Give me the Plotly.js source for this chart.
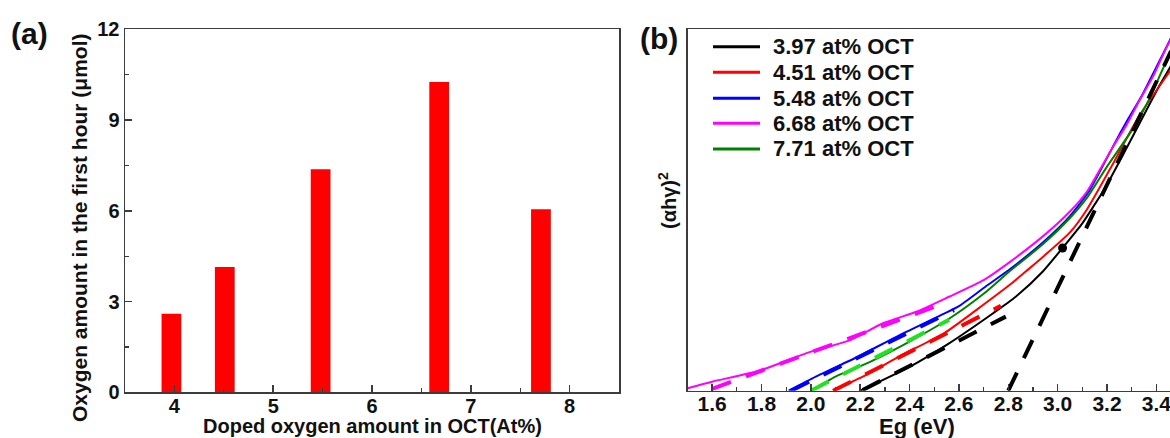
<!DOCTYPE html>
<html>
<head>
<meta charset="utf-8">
<script src="https://cdn.plot.ly/plotly-3.0.1.min.js"></script>
<style>
  html, body { margin: 0; padding: 0; overflow: hidden; background: #fff; }
  #chart { width: 1200px; height: 438px; }
</style>
</head>
<body>
<div id="chart"></div>
<script>
// ---------- Panel (a): photocatalytic O2 evolution ----------
const dopedOxygen = [3.97, 4.51, 5.48, 6.68, 7.71];          // at% OCT
const oxygenFirstHour = [2.60, 4.14, 7.37, 10.26, 6.05];     // µmol
const aTicks = [4, 5, 6, 7, 8];

// ---------- Panel (b): Tauc plots (αhν)^2 vs Eg ----------
const seriesNames = ["3.97 at% OCT", "4.51 at% OCT", "5.48 at% OCT", "6.68 at% OCT", "7.71 at% OCT"];
const seriesColors = ["#000000", "#ff0000", "#0000ff", "#ff00ff", "#008000"];

const eg397 = [2.20, 2.40, 2.56, 2.74, 2.83, 2.94, 3.02, 3.10, 3.15, 3.19, 3.28, 3.415, 3.46, 3.49];
const ab397 = [0, 6.6, 13.1, 21.5, 26.0, 33.0, 39.5, 46.3, 51.5, 55.8, 67.2, 84.7, 90, 94];

const eg451 = [2.09, 2.21, 2.37, 2.54, 2.67, 2.81, 2.88, 2.94, 3.05, 3.12, 3.23, 3.33, 3.455, 3.49];
const ab451 = [0, 3.9, 9.9, 15.9, 22.3, 29.5, 33.5, 37.0, 43.8, 50.3, 63.5, 76.0, 88.4, 92];

const eg548 = [1.91, 2.02, 2.19, 2.36, 2.54, 2.60, 2.70, 2.81, 2.94, 3.05, 3.13, 3.18, 3.23, 3.28, 3.34, 3.40, 3.455, 3.49];
const ab548 = [0, 3.9, 9.4, 15.4, 21.3, 23.4, 28.4, 33.8, 41.0, 48.3, 55.5, 61.8, 68.3, 74.5, 81.5, 89.5, 97, 102];

const eg668 = [1.50, 1.60, 1.79, 2.00, 2.16, 2.29, 2.43, 2.56, 2.70, 2.81, 2.94, 3.05, 3.12, 3.17, 3.23, 3.28, 3.33, 3.39, 3.44, 3.49];
const ab668 = [0.7, 2.5, 5.5, 10.8, 14.0, 18.6, 21.9, 26.0, 30.6, 35.8, 42.7, 49.6, 55.2, 61.0, 68.1, 73.6, 80.1, 87.4, 94.8, 101];

const eg771 = [2.00, 2.10, 2.24, 2.40, 2.56, 2.70, 2.81, 2.94, 3.05, 3.12, 3.20, 3.31, 3.37, 3.44, 3.49];
const ab771 = [0, 3.9, 8.0, 13.6, 19.9, 26.8, 33.3, 40.5, 47.8, 53.5, 62.0, 73.0, 80.5, 91.0, 97];

// tangent (fit) lines: [x0, x1], [y0, y1]
const fitBlackSteepX = [2.80, 3.46], fitBlackSteepY = [0, 94];
const fitBlackLowX = [2.21, 2.79],  fitBlackLowY = [0.2, 20.5];
const fitRedX = [2.09, 2.77],       fitRedY = [0, 23.5];
const fitBlueX = [1.92, 2.58],      fitBlueY = [0, 22.3];
const fitMagentaX = [1.60, 2.54],   fitMagentaY = [0.5, 24.2];
const fitGreenX = [2.00, 2.56],     fitGreenY = [0, 19.6];
// marked point on the 3.97 at% curve
const markX = [3.02], markY = [39.5];

const W = 1200, H = 438;
const px = v => v / W;
const py = v => 1 - v / H;
const FONT = "Arial, 'Liberation Sans', sans-serif";
const AXC = "#3c3c3c";

const curves = [
  [eg397, ab397], [eg451, ab451], [eg548, ab548], [eg668, ab668], [eg771, ab771]
];

const traces = [];
traces.push({
  type: "bar", x: dopedOxygen, y: oxygenFirstHour, width: 0.2,
  marker: { color: "#ff0000", line: { width: 0 } },
  xaxis: "x", yaxis: "y", showlegend: false, hoverinfo: "x+y"
});
curves.forEach((c, i) => {
  traces.push({
    type: "scatter", mode: "lines", x: c[0], y: c[1], name: seriesNames[i],
    line: { color: seriesColors[i], width: 2, shape: "spline", smoothing: 0.6 },
    xaxis: "x2", yaxis: "y2", showlegend: false
  });
});
const fits = [
  [fitMagentaX, fitMagentaY, "#ff00ff"],
  [fitBlueX, fitBlueY, "#0000ff"],
  [fitGreenX, fitGreenY, "#22e022"],
  [fitRedX, fitRedY, "#ff0000"],
  [fitBlackLowX, fitBlackLowY, "#000000"],
  [fitBlackSteepX, fitBlackSteepY, "#000000"]
];
fits.forEach(f => {
  traces.push({
    type: "scatter", mode: "lines", x: f[0], y: f[1],
    line: { color: f[2], width: 4, dash: "20px,16px" },
    xaxis: "x2", yaxis: "y2", showlegend: false, hoverinfo: "skip"
  });
});
traces.push({
  type: "scatter", mode: "markers", x: markX, y: markY,
  marker: { color: "#000", size: 9 }, xaxis: "x2", yaxis: "y2", showlegend: false
});

const tickFontA = { family: FONT, size: 20, color: "#111", weight: "bold" };
const tickFontB = { family: FONT, size: 21, color: "#111", weight: "bold" };

const shapes = [];
const annotations = [];

// manual legend for panel (b)
const legendRows = [46.7, 72.3, 98.3, 123.3, 149];
seriesNames.forEach((n, i) => {
  shapes.push({
    type: "line", xref: "paper", yref: "paper",
    x0: px(713), x1: px(760), y0: py(legendRows[i]), y1: py(legendRows[i]),
    line: { color: seriesColors[i], width: 3 }
  });
  annotations.push({
    xref: "paper", yref: "paper", x: px(771), y: py(legendRows[i]),
    xanchor: "left", yanchor: "middle", showarrow: false, text: n,
    font: { family: FONT, size: 22, color: "#111", weight: "bold" }
  });
});

// titles and panel labels
annotations.push(
  { xref: "paper", yref: "paper", x: px(9), y: py(15), xanchor: "left", yanchor: "top",
    showarrow: false, text: "(a)", font: { family: FONT, size: 30, color: "#111", weight: "bold" } },
  { xref: "paper", yref: "paper", x: px(638), y: py(20), xanchor: "left", yanchor: "top",
    showarrow: false, text: "(b)", font: { family: FONT, size: 30, color: "#111", weight: "bold" } },
  { xref: "paper", yref: "paper", x: px(79), y: py(227), xanchor: "center", yanchor: "middle",
    textangle: -90, showarrow: false, text: "Oxygen amount in the first hour (μmol)",
    font: { family: FONT, size: 21, color: "#111", weight: "bold" } },
  { xref: "paper", yref: "paper", x: px(372), y: py(413), xanchor: "center", yanchor: "top",
    showarrow: false, text: "Doped oxygen amount in OCT(At%)",
    font: { family: FONT, size: 20, color: "#111", weight: "bold" } },
  { xref: "paper", yref: "paper", x: px(667), y: py(201), xanchor: "center", yanchor: "middle",
    textangle: -90, showarrow: false, text: "(αhγ)<sup>2</sup>",
    font: { family: FONT, size: 20, color: "#111", weight: "bold" } },
  { xref: "paper", yref: "paper", x: px(917), y: py(412), xanchor: "center", yanchor: "top",
    showarrow: false, text: "Eg (eV)",
    font: { family: FONT, size: 22, color: "#111", weight: "bold" } }
);

const layout = {
  width: W, height: H,
  margin: { l: 0, r: 0, t: 0, b: 0 },
  paper_bgcolor: "#fff", plot_bgcolor: "#fff",
  showlegend: false,
  xaxis: {
    domain: [px(125), px(619)], range: [3.5, 8.5], anchor: "y",
    tickvals: aTicks, ticks: "inside", ticklen: 7, tickwidth: 1.5, tickcolor: AXC,
    minor: { dtick: 0.5, ticks: "inside", ticklen: 4, tickwidth: 1.2, tickcolor: AXC },
    showline: true, mirror: true, linecolor: AXC, linewidth: 1.5,
    showgrid: false, zeroline: false, tickfont: tickFontA, ticklabelstandoff: -5
  },
  yaxis: {
    domain: [1 - 392.3 / H, 1 - 29.3 / H], range: [0, 12], anchor: "x",
    dtick: 3, ticks: "inside", ticklen: 7, tickwidth: 1.5, tickcolor: AXC,
    minor: { dtick: 1.5, ticks: "inside", ticklen: 4, tickwidth: 1.2, tickcolor: AXC },
    showline: true, mirror: true, linecolor: AXC, linewidth: 1.5,
    showgrid: false, zeroline: false, tickfont: tickFontA, ticklabelstandoff: 0
  },
  xaxis2: {
    domain: [px(687.5), px(1181)], range: [1.5, 3.5], anchor: "y2",
    dtick: 0.2, tick0: 1.6, tickformat: ".1f", ticks: "inside", ticklen: 7, tickwidth: 1.5, tickcolor: AXC,
    minor: { dtick: 0.1, ticks: "inside", ticklen: 4, tickwidth: 1.2, tickcolor: AXC },
    showline: true, mirror: true, linecolor: AXC, linewidth: 1.5,
    showgrid: false, zeroline: false, tickfont: tickFontB, ticklabelstandoff: -6
  },
  yaxis2: {
    domain: [1 - 390.7 / H, 1 - 29.3 / H], range: [0, 100], anchor: "x2",
    showticklabels: false, ticks: "",
    showline: true, mirror: true, linecolor: AXC, linewidth: 1.5,
    showgrid: false, zeroline: false
  },
  shapes: shapes,
  annotations: annotations
};

Plotly.newPlot("chart", traces, layout, { displayModeBar: false, staticPlot: true });
</script>
</body>
</html>
